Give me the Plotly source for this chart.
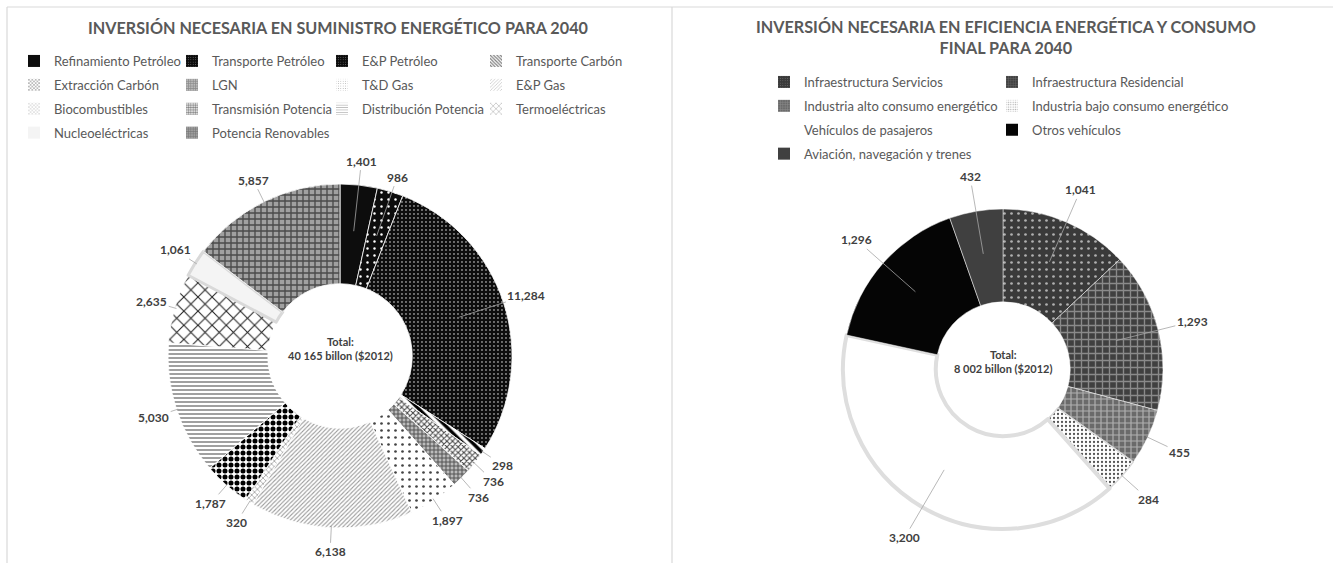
import math
import plotly.graph_objects as go

W, H = 1333, 563
FONT = "Lato"

# ---------------- data ----------------
supply_labels = ["Refinamiento Petróleo", "Transporte Petróleo", "E&P Petróleo", "Transporte Carbón",
                 "Extracción Carbón", "LGN", "T&D Gas", "E&P Gas",
                 "Biocombustibles", "Transmisión Potencia", "Distribución Potencia", "Termoeléctricas",
                 "Nucleoeléctricas", "Potencia Renovables"]
supply_values = [1401, 986, 11284, 298, 736, 736, 1897, 6138, 320, 1787, 5030, 2635, 1061, 5857]
supply_title = "INVERSIÓN NECESARIA EN SUMINISTRO ENERGÉTICO PARA 2040"
supply_center = "Total:<br>40 165 billon ($2012)"

eff_labels = ["Infraestructura Servicios", "Infraestructura Residencial",
              "Industria alto consumo energético", "Industria bajo consumo energético",
              "Vehículos de pasajeros", "Otros vehículos", "Aviación, navegación y trenes"]
eff_values = [1041, 1293, 455, 284, 3200, 1296, 432]
eff_title = "INVERSIÓN NECESARIA EN EFICIENCIA ENERGÉTICA Y CONSUMO<br>FINAL PARA 2040"
eff_center = "Total:<br>8 002 billon ($2012)"

# ---------------- styles (shape, fg, bg, size, solidity, line color, line width) ----------------
supply_styles = [
    ("", "#000000", "#0d0d0d", 8, 0.2, "#ffffff", 0.8),
    (".", "#ffffff", "#0d0d0d", 7, 0.1, "#ffffff", 0.8),
    (".", "#ffffff", "#0d0d0d", 4, 0.1, "#ffffff", 0.8),
    ("\\", "#000000", "#ffffff", 7, 0.5, "#ffffff", 0.8),
    ("x", "#444444", "#ffffff", 4, 0.45, "#ffffff", 0.8),
    ("+", "#555555", "#bbbbbb", 4, 0.45, "#ffffff", 0.8),
    (".", "#444444", "#ffffff", 7, 0.12, "#ffffff", 0.8),
    ("/", "#9a9a9a", "#ffffff", 3, 0.35, "#ffffff", 0.8),
    ("x", "#888888", "#ffffff", 4, 0.3, "#ffffff", 0.8),
    (".", "#000000", "#ffffff", 6, 0.55, "#ffffff", 0.8),
    ("-", "#777777", "#ffffff", 4, 0.35, "#ffffff", 0.8),
    ("x", "#222222", "#ffffff", 10, 0.2, "#ffffff", 0.8),
    ("", "#ffffff", "#f4f4f4", 8, 0.2, "#d9d9d9", 3),
    ("+", "#4a4a4a", "#a0a0a0", 6, 0.4, "#ffffff", 0.8),
]
eff_styles = [
    (".", "#b0b0b0", "#3a3a3a", 7, 0.12, "#ffffff", 0.5),
    ("+", "#8a8a8a", "#404040", 7, 0.35, "#ffffff", 0.5),
    ("+", "#b0b0b0", "#6a6a6a", 6, 0.35, "#ffffff", 0.5),
    (".", "#555555", "#ffffff", 4, 0.25, "#d9d9d9", 1.5),
    ("", "#ffffff", "#ffffff", 8, 0.2, "#dedede", 4),
    ("", "#000000", "#050505", 8, 0.2, "#ffffff", 0.5),
    ("", "#000000", "#404040", 8, 0.2, "#ffffff", 0.5),
]
# leader line starts inside the ring (True) or at the outer edge (False)
supply_inside = [True, True, True, False, False, False, False, False, False, False, False, False, False, False]
eff_inside = [True, True, False, False, True, True, True]

# geometry (pixels)
supply_geo = dict(cx=340, cy=356, r=172, lab=1.14)
eff_geo = dict(cx=1003, cy=369, r=160, lab=1.22)
HOLE = 0.42
supply_legend_x = [14, 172, 322, 476]
eff_legend_x = [764, 992]


def px(x):
    return x / W


def py(y):
    return 1 - y / H


fig = go.Figure()


def add_pie(labels, values, styles, geo):
    cx, cy, r = geo["cx"], geo["cy"], geo["r"]
    fig.add_trace(go.Pie(
        labels=labels, values=values, sort=False, direction="clockwise", rotation=0,
        hole=HOLE, textinfo="none", hoverinfo="label+value", showlegend=False,
        domain=dict(x=[px(cx - r), px(cx + r)], y=[py(cy + r), py(cy - r)]),
        marker=dict(
            colors=[s[2] for s in styles],
            line=dict(color=[s[5] for s in styles], width=[s[6] for s in styles]),
            pattern=dict(shape=[s[0] for s in styles], fgcolor=[s[1] for s in styles],
                         bgcolor=[s[2] for s in styles], size=[s[3] for s in styles],
                         solidity=[s[4] for s in styles]),
        ),
    ))


def add_labels(values, inside, geo):
    cx, cy, r = geo["cx"], geo["cy"], geo["r"]
    total = sum(values)
    cum = 0
    items = []
    for v, ins in zip(values, inside):
        th = 2 * math.pi * (cum + v / 2) / total
        cum += v
        rs = r * 0.73 if ins else r * 0.99
        rl = r * geo["lab"]
        sx, sy = cx + rs * math.sin(th), cy - rs * math.cos(th)
        lx, ly = cx + rl * math.sin(th), cy - rl * math.cos(th)
        items.append([v, sx, sy, lx, ly, math.sin(th) >= 0])
    # simple vertical de-collision per side
    for side in (True, False):
        grp = sorted([it for it in items if it[5] == side], key=lambda it: it[4])
        for a, b in zip(grp, grp[1:]):
            if abs(a[3] - b[3]) < 40 and b[4] - a[4] < 16:
                b[4] = a[4] + 16
    for v, sx, sy, lx, ly, _ in items:
        fig.add_annotation(
            x=px(sx), y=py(sy), xref="paper", yref="paper",
            ax=lx - sx, ay=ly - sy, axref="pixel", ayref="pixel",
            text=f"{v:,}", showarrow=True, arrowhead=0, arrowwidth=0.8,
            arrowcolor="#a6a6a6", standoff=0, startstandoff=0,
            font=dict(family=FONT, size=12, color="#404040", weight="bold"),
        )


add_pie(supply_labels, supply_values, supply_styles, supply_geo)
add_pie(eff_labels, eff_values, eff_styles, eff_geo)
add_labels(supply_values, supply_inside, supply_geo)
add_labels(eff_values, eff_inside, eff_geo)

# legend entries: one vertical legend per column, via invisible bar traces carrying the same fills
legend_cols = []
for c in range(4):
    legend_cols.append((supply_labels[c::4], supply_styles[c::4], supply_legend_x[c], 46))
for c in range(2):
    legend_cols.append((eff_labels[c::2], eff_styles[c::2], eff_legend_x[c], 67))

legend_layout = {}
k = 0
for i, (labs, stys, lx, ly) in enumerate(legend_cols):
    name = "legend" if i == 0 else f"legend{i + 1}"
    for lab, s in zip(labs, stys):
        k += 1
        fig.add_trace(go.Bar(
            x=[None], y=[None], name=lab, legend=name, legendgroup=f"g{k}", showlegend=True,
            hoverinfo="skip",
            marker=dict(color=s[2], line=dict(width=0),
                        pattern=dict(shape=s[0], fgcolor=s[1], bgcolor=s[2], size=max(3, s[3] // 2),
                                     solidity=s[4])),
        ))
    legend_layout[name] = dict(
        orientation="v", x=px(lx), y=py(ly), xanchor="left", yanchor="top",
        itemwidth=30, tracegroupgap=4, traceorder="grouped",
        font=dict(family=FONT, size=13, color="#595959"), bgcolor="rgba(0,0,0,0)",
        itemclick=False, itemdoubleclick=False,
    )

# titles and centre texts
fig.add_annotation(x=px(338), y=py(27), xref="paper", yref="paper", text=supply_title, showarrow=False,
                   xanchor="center", yanchor="middle",
                   font=dict(family=FONT, size=16.2, color="#595959", weight="bold"))
fig.add_annotation(x=px(1006), y=py(37), xref="paper", yref="paper", text=eff_title, showarrow=False,
                   xanchor="center", yanchor="middle", align="center",
                   font=dict(family=FONT, size=16.2, color="#595959", weight="bold"))
for txt, g in ((supply_center, supply_geo), (eff_center, eff_geo)):
    fig.add_annotation(x=px(g["cx"]), y=py(g["cy"] - 8), xref="paper", yref="paper", text=txt,
                       showarrow=False, align="center", xanchor="center", yanchor="middle",
                       font=dict(family=FONT, size=11, color="#404040", weight="bold"))

# chart-area frames
line = dict(color="#d9d9d9", width=1.2)
fig.add_shape(type="line", xref="paper", yref="paper", x0=px(7), x1=px(1333), y0=py(7), y1=py(7), line=line)
fig.add_shape(type="line", xref="paper", yref="paper", x0=px(7), x1=px(7), y0=py(7), y1=py(563), line=line)
fig.add_shape(type="line", xref="paper", yref="paper", x0=px(672), x1=px(672), y0=py(7), y1=py(563), line=line)

fig.update_layout(
    width=W, height=H, margin=dict(l=0, r=0, t=0, b=0),
    paper_bgcolor="#ffffff", plot_bgcolor="#ffffff",
    xaxis=dict(visible=False), yaxis=dict(visible=False),
    **legend_layout,
)
fig.write_html("out.html", config={"displayModeBar": False},
               post_script="document.body.style.margin='0';document.body.style.overflow='hidden';")
